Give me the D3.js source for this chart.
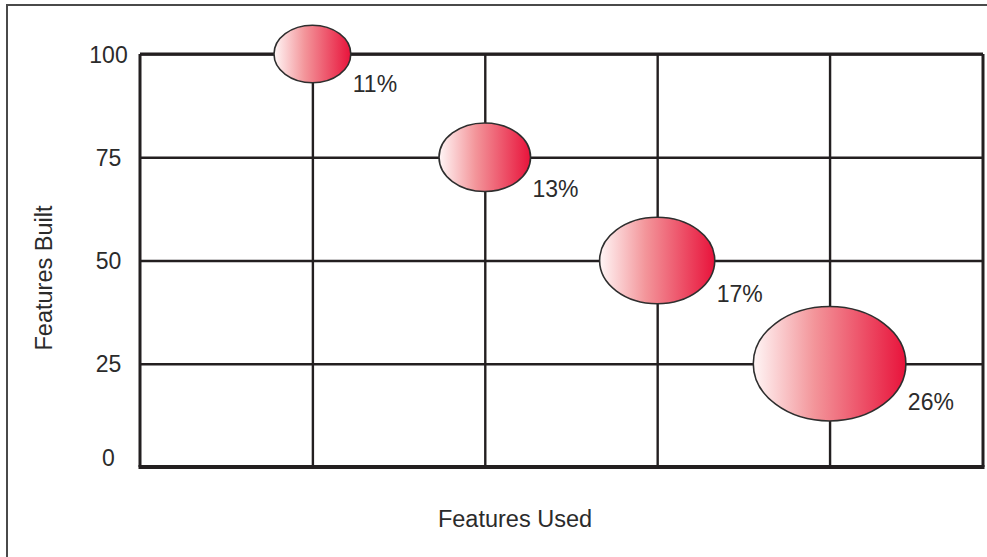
<!DOCTYPE html>
<html>
<head>
<meta charset="utf-8">
<script src="https://cdn.jsdelivr.net/npm/d3@7"></script>
<style>
  html, body { margin: 0; padding: 0; background: #fff; }
  svg { display: block; }
  text { font-family: "Liberation Sans", Arial, Helvetica, sans-serif; fill: #2b2b2b; }
</style>
</head>
<body>
<svg id="chart" width="987" height="557"></svg>
<script>
// Feature usage: each bubble sits at (features used, features built)
const usedSteps = [1, 2, 3, 4];
const builtLevels = [100, 75, 50, 25];
const shareLabels = [11, 13, 17, 26]; // percent shown beside each bubble
const yTickValues = [0, 25, 50, 75, 100];
const xGridValues = [1, 2, 3, 4];
const xTitle = "Features Used";
const yTitle = "Features Built";

const W = 987, H = 557;
const margin = { left: 140, top: 54, right: 4, bottom: 90 };
const plotW = W - margin.left - margin.right;
const plotH = H - margin.top - margin.bottom;

const svg = d3.select("#chart");

// outer frame (right and bottom edges run past the canvas)
svg.append("rect")
  .attr("x", 7).attr("y", 5)
  .attr("width", W + 20).attr("height", H + 20)
  .attr("fill", "none").attr("stroke", "#4a4a4a").attr("stroke-width", 2);

const x = d3.scaleLinear().domain([0, 4.89]).range([0, plotW]);
const y = d3.scaleLinear().domain([0, 100]).range([plotH, 0]);
// bubble half-width grows with the labelled share
const rScale = d3.scaleLog().domain([11, 26]).range([38.4, 76.3]);
const aspect = 0.75;

const g = svg.append("g").attr("transform", `translate(${margin.left},${margin.top})`);

const defs = svg.append("defs");
const grad = defs.append("linearGradient")
  .attr("id", "bubbleFill")
  .attr("x1", "0%").attr("x2", "100%").attr("y1", "0%").attr("y2", "0%");
grad.append("stop").attr("offset", "0%").attr("stop-color", "#fff6f6");
grad.append("stop").attr("offset", "40%").attr("stop-color", "#f3959a");
grad.append("stop").attr("offset", "100%").attr("stop-color", "#e8133b");

const lineColor = "#231f20";

// vertical grid lines
const xAxis = d3.axisBottom(x)
  .tickValues(xGridValues)
  .tickSize(-plotH)
  .tickFormat("");
const xg = g.append("g").attr("transform", `translate(0,${plotH})`).call(xAxis);
xg.select(".domain").remove();
xg.selectAll(".tick line").attr("stroke", lineColor).attr("stroke-width", 2.4);

// horizontal grid lines with tick labels
const yAxis = d3.axisLeft(y)
  .tickValues(yTickValues)
  .tickSize(-plotW)
  .tickFormat(d3.format("d"));
const yg = g.append("g").call(yAxis);
yg.select(".domain").remove();
yg.selectAll(".tick line").attr("stroke", lineColor).attr("stroke-width", 2.6);
yg.selectAll(".tick text")
  .attr("x", -31.5)
  .attr("text-anchor", "middle")
  .attr("dy", d => d === 0 ? "-0.05em" : "0.35em")
  .style("font-size", "23px")
  .style("font-family", "'Liberation Sans', Arial, sans-serif")
  .attr("fill", "#2b2b2b");

// plot frame: left, top and right edges, heavier baseline
g.append("line").attr("x1", 0).attr("x2", 0).attr("y1", 0).attr("y2", plotH)
  .attr("stroke", lineColor).attr("stroke-width", 3);
g.append("line").attr("x1", plotW).attr("x2", plotW).attr("y1", 0).attr("y2", plotH)
  .attr("stroke", lineColor).attr("stroke-width", 3);
g.append("line").attr("x1", 0).attr("x2", plotW).attr("y1", 0).attr("y2", 0)
  .attr("stroke", lineColor).attr("stroke-width", 3);
g.append("line").attr("x1", -1.5).attr("x2", plotW + 1.5).attr("y1", plotH).attr("y2", plotH)
  .attr("stroke", lineColor).attr("stroke-width", 4.2);

const data = usedSteps.map((u, i) => ({ used: u, built: builtLevels[i], share: shareLabels[i] }));

// bubbles
g.selectAll("ellipse.bubble")
  .data(data)
  .join("ellipse")
  .attr("class", "bubble")
  .attr("cx", d => x(d.used))
  .attr("cy", d => y(d.built))
  .attr("rx", d => rScale(d.share))
  .attr("ry", d => rScale(d.share) * aspect)
  .attr("fill", "url(#bubbleFill)")
  .attr("stroke", "#2e2e2e")
  .attr("stroke-width", 1.6);

// share labels at the lower right of each bubble
g.selectAll("text.share")
  .data(data)
  .join("text")
  .attr("class", "share")
  .attr("x", d => x(d.used) + rScale(d.share) + 2)
  .attr("y", d => y(d.built) + rScale(d.share) * aspect * 0.3 + 29)
  .style("font-size", "23px")
  .text(d => d.share + "%");

// axis titles
svg.append("text")
  .attr("x", 515).attr("y", 527)
  .attr("text-anchor", "middle")
  .style("font-size", "23.5px")
  .text(xTitle);

svg.append("text")
  .attr("transform", "translate(52,278) rotate(-90)")
  .attr("text-anchor", "middle")
  .style("font-size", "23.5px")
  .text(yTitle);
</script>
</body>
</html>
